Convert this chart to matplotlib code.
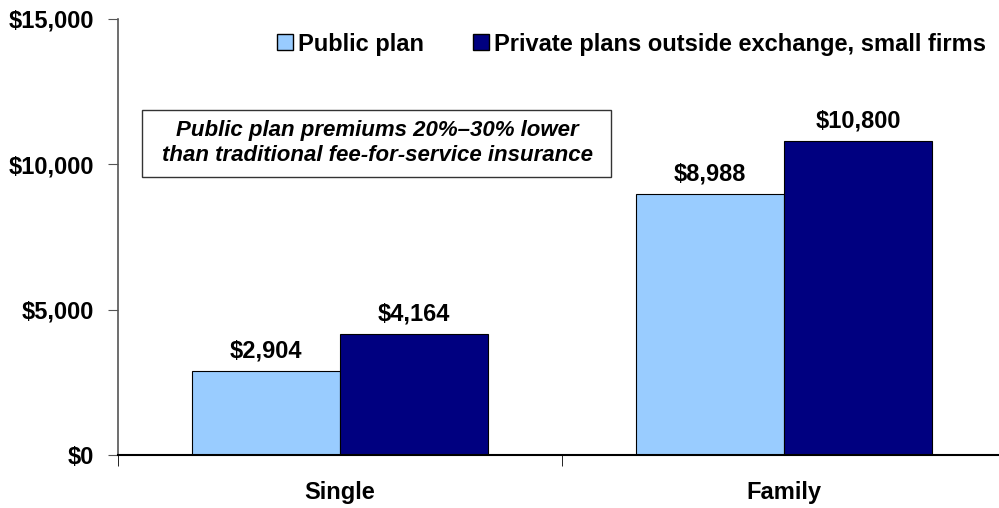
import matplotlib
matplotlib.use("Agg")
import matplotlib.pyplot as plt
from matplotlib.patches import Rectangle
import numpy as np

categories = ["Single", "Family"]
series_names = ["Public plan", "Private plans outside exchange, small firms"]
public_plan = [2904, 8988]
private_plans = [4164, 10800]
yticks = [0, 5000, 10000, 15000]
ytick_labels = ["$0", "$5,000", "$10,000", "$15,000"]
note = "Public plan premiums 20%\u201330% lower\nthan traditional fee-for-service insurance"

colors = ["#99CCFF", "#000080"]
plt.rcParams['font.family'] = ['Liberation Sans', 'DejaVu Sans']
FS = 17
W, H = 999, 508

fig = plt.figure(figsize=(9.99, 5.08), dpi=100)
ax = fig.add_axes([118 / W, 1 - 455 / H, (1006 - 118) / W, (455 - 19) / H])

x = np.arange(len(categories))
w = 1 / 3
bars1 = ax.bar(x - w / 2, public_plan, w, color=colors[0], edgecolor="black", linewidth=0.8, label=series_names[0])
bars2 = ax.bar(x + w / 2, private_plans, w, color=colors[1], edgecolor="black", linewidth=0.8, label=series_names[1])

for bars in (bars1, bars2):
    for b in bars:
        ax.annotate(f"${b.get_height():,.0f}", (b.get_x() + b.get_width() / 2, b.get_height()),
                    xytext=(0, 6), textcoords="offset points", ha="center", va="bottom",
                    fontsize=FS, fontweight="bold")

ax.set_xlim(-0.5, 1.5)
ax.set_ylim(0, 15000)
ax.set_yticks(yticks)
ax.set_yticklabels(ytick_labels, fontsize=FS, fontweight="bold")
ax.set_xticks(x)
ax.set_xticklabels(categories, fontsize=FS, fontweight="bold")
ax.tick_params(axis="x", length=0, pad=19)
ax.set_xticks([-0.5, 0.5, 1.5], minor=True)
ax.tick_params(axis="x", which="minor", length=8, direction="out", color="black")
ax.tick_params(axis="y", length=7, direction="out", color="#555555", pad=10)
for s in ["top", "right"]:
    ax.spines[s].set_visible(False)
ax.spines["left"].set_color("#555555")
ax.spines["left"].set_linewidth(1.2)
ax.spines["bottom"].set_color("black")
ax.spines["bottom"].set_linewidth(1.5)

# annotation box
fig.patches.append(Rectangle((142 / W, 1 - 177 / H), (611 - 142) / W, (177 - 110) / H,
                             transform=fig.transFigure, facecolor="white", edgecolor="#333333",
                             linewidth=1, zorder=3))
fig.text(377 / W, 1 - 143 / H, note, ha="center", va="center",
         fontsize=16, fontweight="bold", style="italic", linespacing=1.3, zorder=4)

leg = ax.legend(loc="center left", bbox_to_anchor=(256 / W, 1 - 44 / H), bbox_transform=fig.transFigure,
                ncol=2, frameon=False, handlelength=0.65, handleheight=0.65,
                handletextpad=0.22, columnspacing=2.1, prop={"weight": "bold", "size": FS})
for h in leg.legend_handles:
    h.set_linewidth(1)

fig.savefig("out.png", dpi=100)
